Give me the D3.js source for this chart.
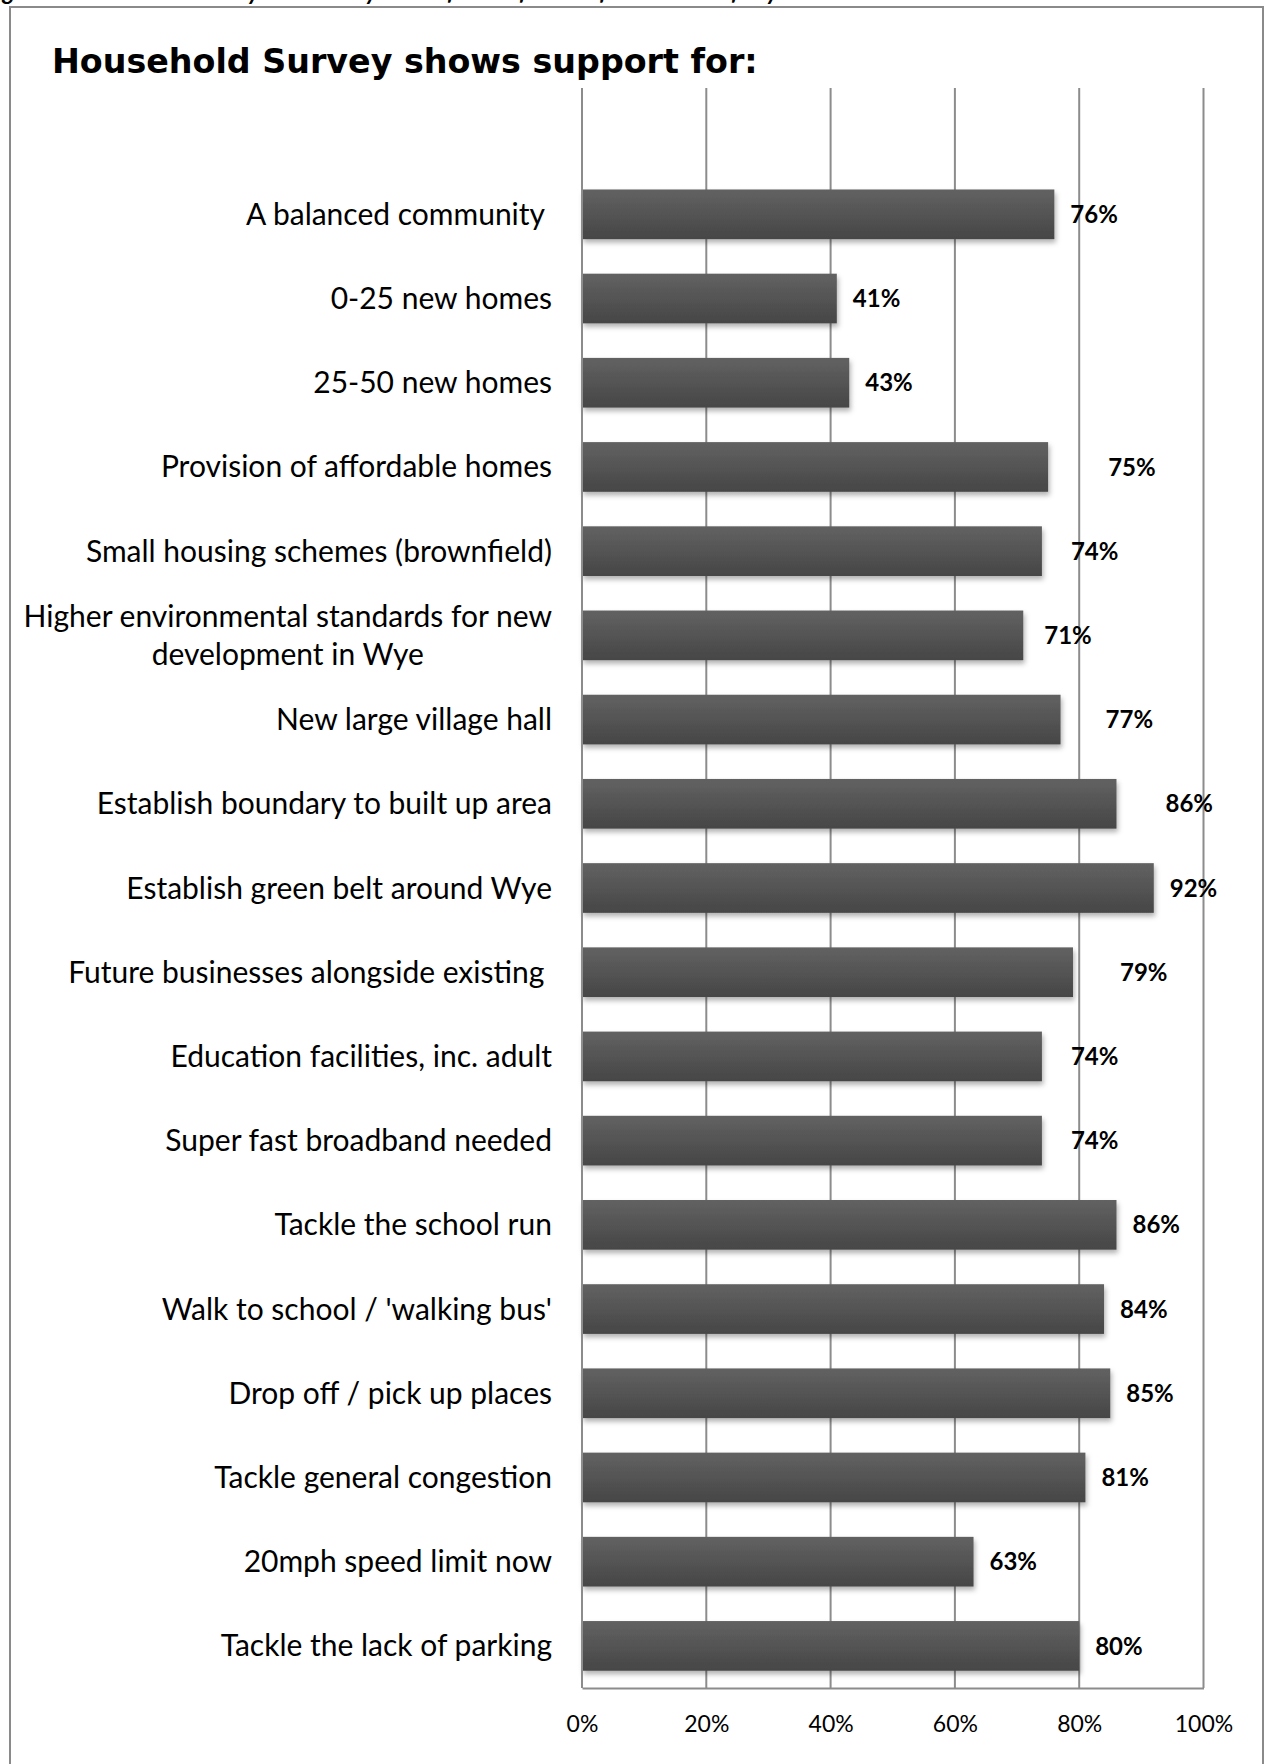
<!DOCTYPE html>
<html>
<head>
<meta charset="utf-8">
<script src="https://cdn.jsdelivr.net/npm/d3@7"></script>
<style>
  html, body { margin: 0; padding: 0; background: #ffffff; }
  svg { display: block; }
  text { white-space: pre; }
</style>
</head>
<body>
<script>
// ---------------- DATA ----------------
const caption = "Figure 4: Household Survey results: key issues for the future of the Parish of Wye";
const title = "Household Survey shows support for:";
const categories = [
  "A balanced community ",
  "0-25 new homes",
  "25-50 new homes",
  "Provision of affordable homes",
  "Small housing schemes (brownfield)",
  "Higher environmental standards for new development in Wye",
  "New large village hall",
  "Establish boundary to built up area",
  "Establish green belt around Wye",
  "Future businesses alongside existing ",
  "Education facilities, inc. adult",
  "Super fast broadband needed",
  "Tackle the school run",
  "Walk to school / 'walking bus'",
  "Drop off / pick up places",
  "Tackle general congestion",
  "20mph speed limit now",
  "Tackle the lack of parking"
];
const values = [0.76, 0.41, 0.43, 0.75, 0.74, 0.71, 0.77, 0.86, 0.92, 0.79, 0.74, 0.74, 0.86, 0.84, 0.85, 0.81, 0.63, 0.80];
const tickValues = [0, 0.2, 0.4, 0.6, 0.8, 1.0];
const tickLabels = ["0%", "20%", "40%", "60%", "80%", "100%"];

// ---------------- LAYOUT ----------------
const W = 1266, H = 1764;
const plot = { left: 582, right: 1203.5, top: 88, bottom: 1688 };
// manual data-label nudges (px) as placed in the original chart
const labelShift = [0, 0, 0, 44, 13, 5, 29, 33, 0, 31, 13, 13, 0, 0, 0, 0, 0, 0];

const svg = d3.select("body").append("svg")
  .attr("width", W).attr("height", H)
  .attr("xml:space", "preserve");

const defs = svg.append("defs");
const grad = defs.append("linearGradient").attr("id", "barGrad")
  .attr("x1", 0).attr("y1", 0).attr("x2", 0).attr("y2", 1);
grad.append("stop").attr("offset", "0%").attr("stop-color", "#626262");
grad.append("stop").attr("offset", "100%").attr("stop-color", "#464646");

const filt = defs.append("filter").attr("id", "shadow")
  .attr("x", "-5%").attr("y", "-20%").attr("width", "110%").attr("height", "160%");
filt.append("feDropShadow").attr("dx", 1.5).attr("dy", 3.5)
  .attr("stdDeviation", 2.5).attr("flood-color", "#000").attr("flood-opacity", 0.3);

// outer frame
svg.append("path")
  .attr("d", `M10,${H + 5} L10,7 L1263,7 L1263,${H + 5}`)
  .attr("fill", "none").attr("stroke", "#8a8a8a").attr("stroke-width", 2);

// clipped caption at very top (only descenders visible, as in the original)
svg.append("text")
  .attr("x", -16).attr("y", -0.5)
  .attr("font-family", "Lato, 'Open Sans', sans-serif")
  .attr("font-weight", "bold").attr("font-style", "italic")
  .attr("font-size", 24).attr("fill", "#000")
  .text(caption);

// title
svg.append("text")
  .attr("x", 52).attr("y", 73)
  .attr("font-family", "'DejaVu Sans', Verdana, sans-serif")
  .attr("font-weight", "bold").attr("font-size", 33.3).attr("fill", "#000")
  .text(title);

// scales
const x = d3.scaleLinear().domain([0, 1]).range([plot.left, plot.right]);
const slot = (plot.bottom - plot.top) / (categories.length + 1);
const y = d3.scaleBand().domain(categories)
  .range([plot.top + slot, plot.bottom])
  .paddingInner(0.41).paddingOuter(0.205);

// gridlines
svg.append("g").selectAll("line").data(tickValues).join("line")
  .attr("x1", d => x(d)).attr("x2", d => x(d))
  .attr("y1", plot.top).attr("y2", plot.bottom)
  .attr("stroke", "#8c8c8c").attr("stroke-width", 2);

// bars
svg.append("g").selectAll("rect").data(categories).join("rect")
  .attr("x", x(0))
  .attr("y", d => y(d))
  .attr("width", (d, i) => x(values[i]) - x(0))
  .attr("height", y.bandwidth())
  .attr("fill", "url(#barGrad)")
  .attr("filter", "url(#shadow)");

// x axis
const xAxis = d3.axisBottom(x).tickValues(tickValues)
  .tickFormat((d, i) => tickLabels[i]).tickSize(0).tickPadding(28);
const gx = svg.append("g").attr("transform", `translate(0,${plot.bottom})`).call(xAxis);
gx.select(".domain").attr("stroke", "#8c8c8c").attr("stroke-width", 2);
gx.selectAll("text")
  .attr("font-family", "Lato, 'Open Sans', sans-serif")
  .attr("font-size", 23).attr("fill", "#000");

// vertical axis line
svg.append("line")
  .attr("x1", plot.left).attr("x2", plot.left)
  .attr("y1", plot.top).attr("y2", plot.bottom)
  .attr("stroke", "#8c8c8c").attr("stroke-width", 2);

// category labels (wrapped, right-aligned block, centred lines)
const labelRight = 552;
const maxLabelWidth = 560;
const catG = svg.append("g")
  .attr("font-family", "Lato, 'Open Sans', sans-serif")
  .attr("font-size", 30).attr("fill", "#000");
categories.forEach(cat => {
  const cy = y(cat) + y.bandwidth() / 2;
  const t = catG.append("text").attr("text-anchor", "middle");
  const words = cat.split(" ");
  const lines = [];
  let cur = "";
  const probe = catG.append("text");
  words.forEach(w => {
    const trial = cur === "" ? w : cur + " " + w;
    probe.text(trial.trimEnd());
    if (probe.node().getComputedTextLength() > maxLabelWidth && cur !== "") {
      lines.push(cur);
      cur = w;
    } else {
      cur = trial;
    }
  });
  lines.push(cur);
  probe.remove();
  const widths = lines.map(l => { const p = catG.append("text").text(l); const w = p.node().getComputedTextLength(); p.remove(); return w; });
  const blockW = d3.max(widths);
  const lh = 38;
  lines.forEach((l, k) => {
    t.append("tspan")
      .attr("x", labelRight - blockW / 2)
      .attr("y", cy + (k - (lines.length - 1) / 2) * lh)
      .attr("dy", "0.35em")
      .text(l);
  });
});

// data labels
svg.append("g").selectAll("text").data(categories).join("text")
  .attr("x", (d, i) => x(values[i]) + 16 + labelShift[i])
  .attr("y", d => y(d) + y.bandwidth() / 2)
  .attr("dy", "0.36em")
  .attr("font-family", "Lato, 'Open Sans', sans-serif")
  .attr("font-weight", "bold").attr("font-size", 24).attr("fill", "#000")
  .text((d, i) => Math.round(values[i] * 100) + "%");
</script>
</body>
</html>
